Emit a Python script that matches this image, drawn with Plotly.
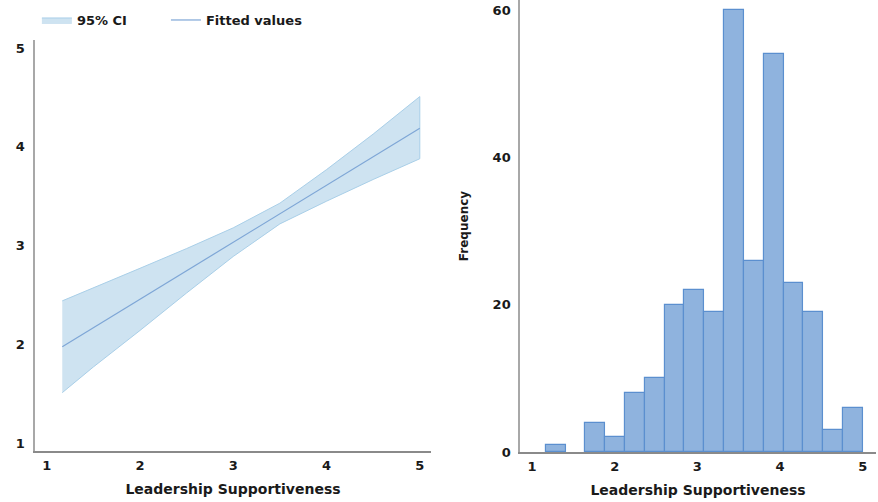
import plotly.graph_objects as go

# ---- Left panel: linear fit with 95% CI ----
fit_x = [1.167, 1.5, 2.0, 2.5, 3.0, 3.5, 4.0, 4.5, 5.0]
fit_y = [1.976, 2.168, 2.457, 2.745, 3.033, 3.322, 3.610, 3.899, 4.188]
ci_upper = [2.44, 2.57, 2.77, 2.97, 3.18, 3.43, 3.77, 4.13, 4.51]
ci_lower = [1.51, 1.77, 2.14, 2.52, 2.89, 3.22, 3.45, 3.67, 3.88]

# ---- Right panel: histogram ----
bin_edges = [1.167, 1.406, 1.646, 1.885, 2.125, 2.365, 2.604, 2.844, 3.083,
             3.323, 3.562, 3.802, 4.042, 4.281, 4.521, 4.760, 5.0]
counts = [1, 0, 4, 2, 8, 10, 20, 22, 19, 60, 26, 54, 23, 19, 3, 6]

xticks = [1, 2, 3, 4, 5]
yticks_left = [1, 2, 3, 4, 5]
yticks_right = [0, 20, 40, 60]

FONT = "DejaVu Sans"
TXT = "#1a1a1a"


def bold(s):
    return "<b>" + s + "</b>"


fig = go.Figure()

fig.add_trace(go.Scatter(
    x=fit_x + fit_x[::-1], y=ci_upper + ci_lower[::-1],
    fill="toself", fillcolor="rgba(190,218,236,0.75)",
    line=dict(color="#a9cfe8", width=1), mode="lines",
    name=bold("95% CI"), legend="legend", xaxis="x", yaxis="y", hoverinfo="skip"))

fig.add_trace(go.Scatter(
    x=fit_x, y=fit_y, mode="lines", line=dict(color="#7ea6d6", width=1.2),
    name=bold("Fitted values"), legend="legend2", xaxis="x", yaxis="y"))

centers = [(bin_edges[i] + bin_edges[i + 1]) / 2 for i in range(len(counts))]
widths = [bin_edges[i + 1] - bin_edges[i] for i in range(len(counts))]
line_w = [1.2 if c > 0 else 0 for c in counts]
fig.add_trace(go.Bar(
    x=centers, y=counts, width=widths,
    marker=dict(color="#8fb3de", line=dict(color="#5b8fcf", width=line_w)),
    showlegend=False, xaxis="x2", yaxis="y2"))

tickfont = dict(family=FONT, size=13, color=TXT, weight="bold")
axis_common = dict(showgrid=False, zeroline=False, ticks="", automargin=False,
                   showline=True, tickfont=tickfont)
title_font = dict(family=FONT, size=14, color=TXT, weight="bold")
legend_common = dict(orientation="h", y=0.99, xanchor="left", yanchor="top",
                     font=dict(family=FONT, size=13, color=TXT),
                     bgcolor="rgba(0,0,0,0)", itemwidth=30)

fig.update_layout(
    width=878, height=502,
    margin=dict(l=0, r=0, t=0, b=0),
    paper_bgcolor="white", plot_bgcolor="white",
    font=dict(family=FONT, color=TXT),
    bargap=0,
    xaxis=dict(domain=[0.0399, 0.4909], range=[0.875, 5.12],
               tickvals=xticks, linecolor="#8a8a8a", linewidth=1.5,
               ticklabelstandoff=2,
               title=dict(text="Leadership Supportiveness", font=title_font, standoff=12),
               anchor="y", **axis_common),
    yaxis=dict(domain=[0.1016, 0.9203], range=[0.919, 5.083],
               tickvals=yticks_left, linecolor="#a8a8a8", linewidth=1.5,
               ticklabelstandoff=6, anchor="x", **axis_common),
    xaxis2=dict(domain=[0.5923, 0.9977], range=[0.855, 5.16],
                tickvals=xticks, linecolor="#8a8a8a", linewidth=1.5,
                ticklabelstandoff=2,
                title=dict(text="Leadership Supportiveness", font=title_font, standoff=12),
                anchor="y2", **axis_common),
    yaxis2=dict(domain=[0.0996, 1.0], range=[0, 61.4],
                tickvals=yticks_right, linecolor="#a8a8a8", linewidth=1.5,
                ticklabelstandoff=5,
                title=dict(text="Frequency",
                           font=dict(family=FONT, size=12, color=TXT, weight="bold"),
                           standoff=21),
                anchor="x2", **axis_common),
    legend=dict(x=0.042, **legend_common),
    legend2=dict(x=0.189, **legend_common),
)

fig.write_html("out.html", config={"displayModeBar": False},
               post_script="document.body.style.margin='0';document.body.style.padding='0';")
